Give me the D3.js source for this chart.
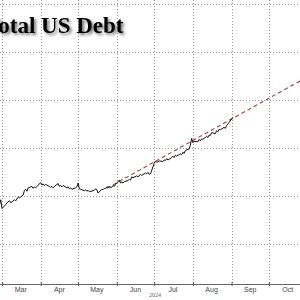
<!DOCTYPE html>
<html>
<head>
<meta charset="utf-8">
<script src="https://cdn.jsdelivr.net/npm/d3@7"></script>
<style>
  html, body { margin: 0; padding: 0; background: #fff; }
  svg { display: block; }
</style>
</head>
<body>
<div id="chart"></div>
<script>
// Total US Debt, trillions of dollars (daily)
var debtDates = [
  "2024-02-28","2024-02-29","2024-03-01","2024-03-04","2024-03-05","2024-03-07","2024-03-08",
  "2024-03-11","2024-03-12","2024-03-14","2024-03-15","2024-03-18","2024-03-19","2024-03-20",
  "2024-03-21","2024-03-22","2024-03-25","2024-03-26","2024-03-27","2024-03-28","2024-04-01",
  "2024-04-02","2024-04-03","2024-04-04","2024-04-05","2024-04-08","2024-04-09","2024-04-10",
  "2024-04-11","2024-04-12","2024-04-15","2024-04-16","2024-04-17","2024-04-18","2024-04-19",
  "2024-04-22","2024-04-23","2024-04-24","2024-04-25","2024-04-26","2024-04-29","2024-04-30",
  "2024-05-01","2024-05-02","2024-05-03","2024-05-06","2024-05-07","2024-05-08","2024-05-09",
  "2024-05-10","2024-05-13","2024-05-14","2024-05-15","2024-05-16","2024-05-17","2024-05-20",
  "2024-05-21","2024-05-22","2024-05-23","2024-05-24","2024-05-28","2024-05-29","2024-05-30",
  "2024-05-31","2024-06-03","2024-06-04","2024-06-05","2024-06-06","2024-06-07","2024-06-10",
  "2024-06-11","2024-06-12","2024-06-13","2024-06-14","2024-06-17","2024-06-18","2024-06-20",
  "2024-06-21","2024-06-24","2024-06-25","2024-06-26","2024-06-27","2024-06-28","2024-07-01",
  "2024-07-02","2024-07-03","2024-07-05","2024-07-08","2024-07-09","2024-07-10","2024-07-11",
  "2024-07-12","2024-07-15","2024-07-16","2024-07-17","2024-07-18","2024-07-19","2024-07-22",
  "2024-07-23","2024-07-24","2024-07-25","2024-07-26","2024-07-29","2024-07-30","2024-07-31",
  "2024-08-01","2024-08-02","2024-08-05","2024-08-06","2024-08-07","2024-08-08","2024-08-09",
  "2024-08-12","2024-08-13","2024-08-14","2024-08-15","2024-08-16","2024-08-19","2024-08-20",
  "2024-08-21","2024-08-22","2024-08-23","2024-08-26","2024-08-27","2024-08-28","2024-08-29",
  "2024-08-30","2024-09-02"
];
var debtValues = [
  34.41,34.46,34.37,34.41,34.43,34.45,34.43,
  34.46,34.45,34.49,34.48,34.51,34.56,34.57,
  34.55,34.585,34.6,34.58,34.595,34.585,34.64,
  34.615,34.625,34.61,34.62,34.6,34.59,34.6,
  34.585,34.6,34.63,34.6,34.61,34.595,34.61,
  34.585,34.595,34.575,34.585,34.57,34.585,34.595,
  34.635,34.575,34.57,34.555,34.565,34.55,34.56,
  34.545,34.555,34.56,34.575,34.565,34.53,34.57,
  34.565,34.58,34.575,34.595,34.59,34.61,34.6,
  34.62,34.665,34.635,34.645,34.635,34.65,34.66,
  34.675,34.665,34.7,34.69,34.71,34.7,34.725,
  34.715,34.74,34.73,34.745,34.725,34.73,34.84,
  34.865,34.85,34.865,34.86,34.875,34.87,34.89,
  34.875,34.9,34.915,34.9,34.925,34.915,34.94,
  34.93,34.955,34.945,34.975,34.99,35.03,35.1,
  35.055,35.07,35.065,35.09,35.075,35.095,35.09,
  35.12,35.11,35.135,35.13,35.16,35.15,35.18,
  35.17,35.195,35.19,35.215,35.205,35.235,35.25,
  35.265,35.32
];

// linear trend (dashed)
var trendDates = ["2024-05-24", "2024-10-31"];
var trendValues = [34.58, 35.735];

var monthLabels = ["Mar","Apr","May","Jun","Jul","Aug","Sep","Oct"];
var yGridValues = [34.0, 34.5, 35.0, 35.5, 36.0, 36.5];
var titleText = "Total US Debt";
var yearLabel = "2024";

var W = 300, H = 300;
var parse = d3.timeParse("%Y-%m-%d");

var debt = debtDates.map(function(d, i) { return { date: parse(d), value: debtValues[i] }; });
var trend = trendDates.map(function(d, i) { return { date: parse(d), value: trendValues[i] }; });

var x = d3.scaleTime()
    .domain([parse("2024-03-01"), parse("2024-10-01")])
    .range([2, 269]);

var y = d3.scaleLinear()
    .domain([34, 36.5])
    .range([244, 4]);

var axisY = 284;

var svg = d3.select("#chart").append("svg")
    .attr("width", W)
    .attr("height", H);

var defs = svg.append("defs");
var shadow = defs.append("filter")
    .attr("id", "shadow")
    .attr("x", "-20%").attr("y", "-40%")
    .attr("width", "140%").attr("height", "180%");
shadow.append("feDropShadow")
    .attr("dx", 2).attr("dy", 2)
    .attr("stdDeviation", 1.4)
    .attr("flood-color", "#000")
    .attr("flood-opacity", 0.55);

// grid
var months = d3.timeMonth.range(parse("2024-03-01"), parse("2024-11-01"));

svg.append("g")
  .selectAll("line")
  .data(yGridValues)
  .enter().append("line")
    .attr("x1", 0).attr("x2", W)
    .attr("y1", function(d) { return Math.round(y(d)) + 0.5; })
    .attr("y2", function(d) { return Math.round(y(d)) + 0.5; })
    .attr("stroke", "#999")
    .attr("stroke-width", 1)
    .attr("stroke-dasharray", "1,2");

svg.append("g")
  .selectAll("line")
  .data(months)
  .enter().append("line")
    .attr("x1", function(d) { return Math.round(x(d)) + 0.5; })
    .attr("x2", function(d) { return Math.round(x(d)) + 0.5; })
    .attr("y1", 0).attr("y2", axisY)
    .attr("stroke", "#999")
    .attr("stroke-width", 1)
    .attr("stroke-dasharray", "1,2");

// x axis
var xAxis = d3.axisBottom(x)
    .ticks(d3.timeMonth.every(1))
    .tickSize(3)
    .tickFormat("");

var gx = svg.append("g")
    .attr("transform", "translate(0," + axisY + ")")
    .call(xAxis);
gx.select(".domain").remove();
gx.selectAll(".tick line").attr("stroke", "#555").attr("y1", -2).attr("y2", 2);

svg.append("line")
    .attr("x1", 0).attr("x2", W)
    .attr("y1", axisY + 0.5).attr("y2", axisY + 0.5)
    .attr("stroke", "#666")
    .attr("stroke-width", 1);

svg.append("g")
  .selectAll("text")
  .data(months.slice(0, monthLabels.length))
  .enter().append("text")
    .attr("x", function(d) { return x(d3.timeDay.offset(d, 15)); })
    .attr("y", axisY + 8)
    .attr("text-anchor", "middle")
    .attr("font-family", "Liberation Sans, Arial, sans-serif")
    .attr("font-size", 7)
    .attr("fill", "#444")
    .text(function(d, i) { return monthLabels[i]; });

svg.append("text")
    .attr("x", 155)
    .attr("y", axisY + 13)
    .attr("text-anchor", "middle")
    .attr("font-family", "Liberation Serif, Times New Roman, serif")
    .attr("font-size", 6)
    .attr("fill", "#666")
    .text(yearLabel);

// trend line
var line = d3.line()
    .x(function(d) { return x(d.date); })
    .y(function(d) { return y(d.value); });

svg.append("path")
    .datum(trend)
    .attr("d", line)
    .attr("fill", "none")
    .attr("stroke", "#a83a48")
    .attr("stroke-width", 1.1)
    .attr("stroke-dasharray", "4,3");

// debt line
svg.append("path")
    .datum(debt)
    .attr("d", line)
    .attr("fill", "none")
    .attr("stroke", "#111")
    .attr("stroke-width", 1)
    .attr("stroke-linejoin", "round");

// title (cut off at the left edge, as in the original)
svg.append("text")
    .attr("x", -15)
    .attr("y", 33)
    .attr("font-family", "Liberation Serif, Times New Roman, serif")
    .attr("font-weight", "bold")
    .attr("font-size", 23)
    .attr("fill", "#000")
    .attr("filter", "url(#shadow)")
    .text(titleText);
</script>
</body>
</html>
